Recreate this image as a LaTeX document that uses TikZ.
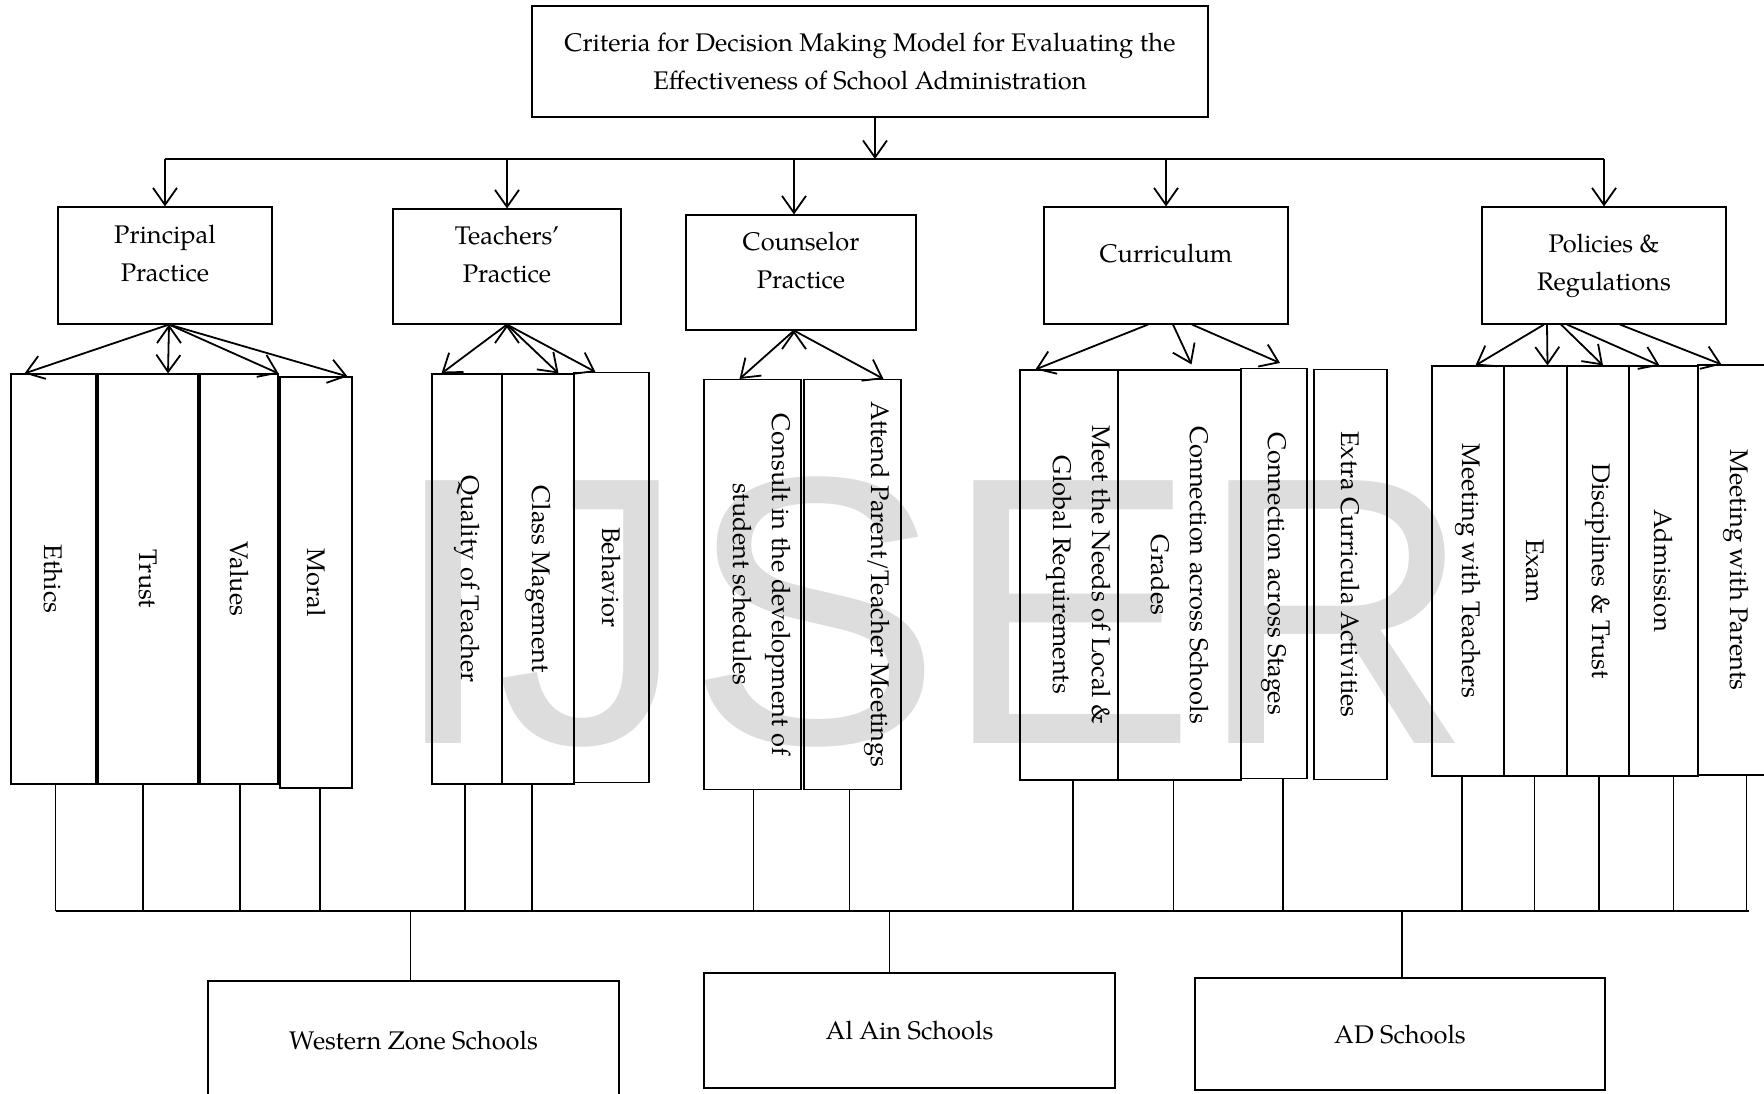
\documentclass[tikz,border=0pt]{standalone}
\usepackage{fontspec}
\setmainfont{TeX Gyre Pagella}
\newfontfamily\wmfont{Liberation Sans}
\usetikzlibrary{arrows.meta}
\definecolor{wmgray}{RGB}{221,221,221}
\tikzset{
  box/.style={draw, line width=1.1pt, inner sep=0pt, align=center, font=\fontsize{25.5}{38}\selectfont},
  col/.style={draw, line width=1.1pt, inner sep=0pt, minimum height=410pt},
  vtext/.style={rotate=-90, align=center, inner sep=0pt, font=\fontsize{25.5}{39}\selectfont},
  arr/.style={-{Straight Barb[length=17pt,width=24pt]}, line width=1.8pt},
  link/.style={line width=1.1pt},
}

\begin{document}
\begin{tikzpicture}[x=1pt,y=-1pt]
  \useasboundingbox (0,0) rectangle (1764,1094);
  \node[font=\wmfont\fontsize{382}{382}\selectfont, text=wmgray, anchor=base, inner sep=0pt] (wm) at (932,743) {IJSER};

  \node[box, minimum width=676pt, minimum height=111pt] (title) at (870,61.5)
    {Criteria for Decision Making Model for Evaluating the\\Effectiveness of School Administration};

  \node[box, text depth=24pt, minimum width=214pt, minimum height=117pt] (principal) at (165,265.5) {Principal\\Practice};
  \node[box, text depth=24pt, minimum width=228pt, minimum height=115pt] (teachers) at (507,266.5) {Teachers’\\Practice};
  \node[box, text depth=24pt, minimum width=230pt, minimum height=115pt] (counselor) at (801,272.5) {Counselor\\Practice};
  \node[box, text depth=24pt, minimum width=244pt, minimum height=117pt] (curriculum) at (1166,265.5) {Curriculum};
  \node[box, minimum width=244pt, minimum height=117pt] (policies) at (1604,265.5) {Policies \&\\Regulations};

  \node[col, minimum width=85pt, label={[vtext]center:Ethics}] (ethics) at (53.5,579) {};
  \node[col, minimum width=100pt, label={[vtext]center:Trust}] (trust) at (148,579) {};
  \node[col, minimum width=78pt, label={[vtext]center:Values}] (values) at (239,579) {};
  \node[col, minimum width=72pt, minimum height=411pt, label={[vtext]center:Moral}] (moral) at (316,582.5) {};
  \node[col, minimum width=70pt, label={[vtext]center:Quality of Teacher}] (quality) at (467,579) {};
  \node[col, minimum width=72pt, label={[vtext]center:Class Magement}] (classmgmt) at (538,579) {};
  \node[col, minimum width=75pt, label={[vtext]center:Behavior}] (behavior) at (611.5,577.5) {};
  \node[col, minimum width=97pt, label={[xshift=10pt,vtext]center:Consult in the development of\\student schedules}] (consult) at (752.5,584.5) {};
  \node[col, minimum width=97pt, label={[xshift=25pt,vtext]center:Attend Parent/Teacher Meetings}] (attend) at (852.5,584.5) {};
  \node[col, minimum width=98pt, label={[xshift=10pt,vtext]center:Meet the Needs of Local \&\\Global Requirements}] (needs) at (1069,575) {};
  \node[col, minimum width=123pt, label={[vtext]center:Connection across Schools\\Grades}] (connschools) at (1179.5,575) {};
  \node[col, minimum width=66pt, label={[vtext]center:Connection across Stages}] (connstages) at (1274,573.5) {};
  \node[col, minimum width=73pt, label={[vtext]center:Extra Curricula Activities}] (extra) at (1350.5,574.5) {};
  \node[col, minimum width=72pt, label={[vtext]center:Meeting with Teachers}] (meetteach) at (1468,571) {};
  \node[col, minimum width=63pt, label={[vtext]center:Exam}] (exam) at (1535.5,571) {};
  \node[col, minimum width=62pt, label={[vtext]center:Disciplines \& Trust}] (discipline) at (1598,571) {};
  \node[col, minimum width=69pt, label={[vtext]center:Admission}] (admission) at (1663.5,571) {};
  \node[col, minimum width=77pt, label={[vtext]center:Meeting with Parents}] (meetparents) at (1736.5,570) {};

  \node[box, minimum width=411pt, minimum height=118pt] (western) at (413.5,1040) {Western Zone Schools};
  \node[box, minimum width=411pt, minimum height=115pt] (alain) at (909.5,1030.5) {Al Ain Schools};
  \node[box, minimum width=410pt, minimum height=112pt] (adschools) at (1400,1034) {AD Schools};

  % top level
  \coordinate (hub) at (875,159);
  \draw[arr] ([xshift=5pt]title.south) -- (hub);
  \draw[link] (principal.north |- hub) -- (policies.north |- hub);
  \draw[arr] (principal.north |- hub) -- (principal.north);
  \draw[arr] (teachers.north |- hub) -- (teachers.north);
  \draw[arr] ([xshift=-7pt]counselor.north |- hub) -- ([xshift=-7pt]counselor.north);
  \draw[arr] (curriculum.north |- hub) -- (curriculum.north);
  \draw[arr] (policies.north |- hub) -- (policies.north);

  % criteria
  \draw[arr] ([xshift=4pt]principal.south) edge ([xshift=14pt]ethics.north west)
    edge ([xshift=20pt]trust.north) edge (values.north east) edge ([xshift=-5pt]moral.north east);
  \draw[arr] (teachers.south) edge ([xshift=10pt]quality.north west)
    edge ([xshift=-16pt]classmgmt.north east) edge ([xshift=22pt]behavior.north west);
  \draw[arr] ([xshift=-7pt]counselor.south) edge ([xshift=-13pt]consult.north)
    edge ([xshift=-18pt]attend.north east);
  \draw[arr] ([xshift=-18pt]curriculum.south) -- ([xshift=16pt]needs.north west);
  \draw[arr] ([xshift=7pt]curriculum.south) -- ([xshift=12pt,yshift=5pt]connschools.north);
  \draw[arr] ([xshift=26pt]curriculum.south) -- ([xshift=6pt,yshift=5pt]connstages.north);
  \draw[arr] ([xshift=-60pt]policies.south) -- ([xshift=44pt]meetteach.north west);
  \draw[arr] ([xshift=-57pt]policies.south) -- ([xshift=12pt]exam.north);
  \draw[arr] ([xshift=-43pt]policies.south) -- ([xshift=5pt]discipline.north);
  \draw[arr] ([xshift=-37pt]policies.south) -- ([xshift=-4pt]admission.north);
  \draw[arr] ([xshift=16pt]policies.south) -- ([xshift=-15pt]meetparents.north);

  % schools
  \coordinate (bus) at (56,911);
  \coordinate (busend) at (1749,911);
  \draw[link] (bus) -- (busend);
  \draw[link] ([xshift=2pt]ethics.south) -- ([xshift=2pt]ethics.south |- bus)
    ([xshift=-5pt]trust.south) -- ([xshift=-5pt]trust.south |- bus)
    ([xshift=1pt]values.south) -- ([xshift=1pt]values.south |- bus)
    ([xshift=4pt]moral.south) -- ([xshift=4pt]moral.south |- bus)
    ([xshift=-2pt]quality.south) -- ([xshift=-2pt]quality.south |- bus)
    ([xshift=-6pt]classmgmt.south) -- ([xshift=-6pt]classmgmt.south |- bus)
    ([xshift=1pt]consult.south) -- ([xshift=1pt]consult.south |- bus)
    ([xshift=-3pt]attend.south) -- ([xshift=-3pt]attend.south |- bus)
    ([xshift=4pt]needs.south) -- ([xshift=4pt]needs.south |- bus)
    ([xshift=-6pt]connschools.south) -- ([xshift=-6pt]connschools.south |- bus)
    ([xshift=9pt]connstages.south) -- ([xshift=9pt]connstages.south |- bus)
    ([xshift=-6pt]meetteach.south) -- ([xshift=-6pt]meetteach.south |- bus)
    ([xshift=-1pt]exam.south) -- ([xshift=-1pt]exam.south |- bus)
    ([xshift=1pt]discipline.south) -- ([xshift=1pt]discipline.south |- bus)
    ([xshift=10pt]admission.south) -- ([xshift=10pt]admission.south |- bus)
    ([xshift=10pt]meetparents.south) -- ([xshift=10pt]meetparents.south |- bus);
  \draw[link] ([xshift=-3pt]western.north |- bus) -- ([xshift=-3pt]western.north)
    ([xshift=-20pt]alain.north |- bus) -- ([xshift=-20pt]alain.north)
    ([xshift=2pt]adschools.north |- bus) -- ([xshift=2pt]adschools.north);
\end{tikzpicture}
\end{document}
